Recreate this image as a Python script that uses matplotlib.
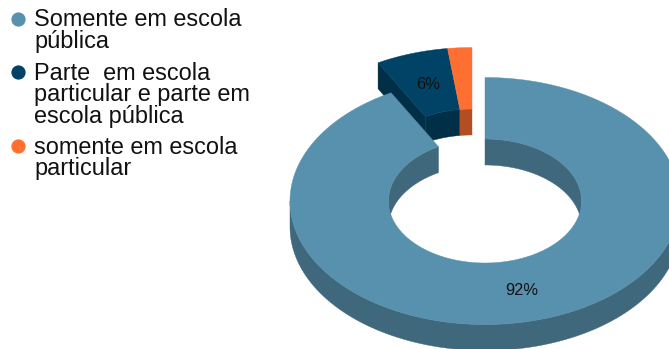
import numpy as np
import matplotlib
matplotlib.use("Agg")
import matplotlib.pyplot as plt
from matplotlib.patches import Polygon

# Survey shares, in percent, clockwise from twelve o'clock
categories = ["Somente em escola\npública",
              "Parte  em escola\nparticular e parte em\nescola pública",
              "somente em escola\nparticular"]
shares = [92, 6, 2]
show_value = [True, True, False]

top_colors = ["#5891AD", "#004366", "#FF6F31"]
wall_colors = ["#3F687D", "#002F47", "#B24F22"]

# Ring geometry in pixels
CX, CY = 485.0, 201.0
RX, RY = 195.0, 123.5
IRX, IRY = 96.5, 62.0
DEPTH = 26.0
EXPLODE = (-13.0, -30.0)

plt.rcParams["font.family"] = ["Liberation Sans", "DejaVu Sans"]
fig = plt.figure(figsize=(6.69, 3.49), dpi=100)
ax = fig.add_axes([0, 0, 1, 1])
ax.set_xlim(0, 669)
ax.set_ylim(349, 0)
ax.axis("off")


def arc(rx, ry, a0, a1, dx=0.0, dy=0.0):
    """Ellipse arc; angles are degrees clockwise from the top."""
    n = max(2, int(abs(a1 - a0)) * 2 + 1)
    t = np.radians(np.linspace(a0, a1, n))
    return np.column_stack((CX + dx + rx * np.sin(t), CY + dy - ry * np.cos(t)))


def band(points, color, z):
    lower = points[::-1] + [0, DEPTH]
    ax.add_patch(Polygon(np.vstack((points, lower)), closed=True, fc=color,
                         ec=color, lw=0.3, zorder=z))


def draw_slice(a0, a1, top, wall, dx, dy, z, cut_face=False):
    # Inner wall shows on the far half of the hole
    for lo, hi in ((0, 90), (270, 360)):
        s, e = max(a0, lo), min(a1, hi)
        if s < e:
            band(arc(IRX, IRY, s, e, dx, dy), wall, z)
    # Outer wall shows on the near half
    s, e = max(a0, 90), min(a1, 270)
    if s < e:
        band(arc(RX, RY, s, e, dx, dy), wall, z)
    # Radial face at the start of the detached group
    if cut_face:
        face = np.vstack((arc(RX, RY, a0, a0, dx, dy)[:1],
                          arc(IRX, IRY, a0, a0, dx, dy)[:1]))
        band(face, wall, z)
    outline = np.vstack((arc(RX, RY, a0, a1, dx, dy),
                         arc(IRX, IRY, a1, a0, dx, dy)))
    ax.add_patch(Polygon(outline, closed=True, fc=top, ec=top, lw=0.3, zorder=z + 0.5))


edges = np.concatenate(([0], np.cumsum(shares))) * 360.0 / sum(shares)

# The detached slices sit behind the main one, so they go first
for i in (1, 2):
    draw_slice(edges[i], edges[i + 1], top_colors[i], wall_colors[i], *EXPLODE,
               z=1, cut_face=(i == 1))
draw_slice(edges[0], edges[1], top_colors[0], wall_colors[0], 0, 0, z=3)

# Value labels at each slice's angular middle
for i, (value, show) in enumerate(zip(shares, show_value)):
    if not show:
        continue
    mid = (edges[i] + edges[i + 1]) / 2
    t = np.radians(mid)
    frac = 0.74
    off = EXPLODE if i else (0, 0)
    ax.text(CX + off[0] + frac * RX * np.sin(t) + 1, CY + off[1] - frac * RY * np.cos(t) + 0.5,
            f"{value}%", ha="center", va="center", fontsize=11.8, color="#111111", zorder=6)

# Legend column
legend_y = [18.5, 72, 146]
for name, color, y in zip(categories, top_colors, legend_y):
    ax.scatter([17.5], [y], s=105, color=color, linewidths=0, zorder=6)
    ax.text(34, y - 10.5, name, ha="left", va="top", fontsize=16.9,
            linespacing=0.92, color="#111111", zorder=6)

fig.savefig("out.png", dpi=100)
